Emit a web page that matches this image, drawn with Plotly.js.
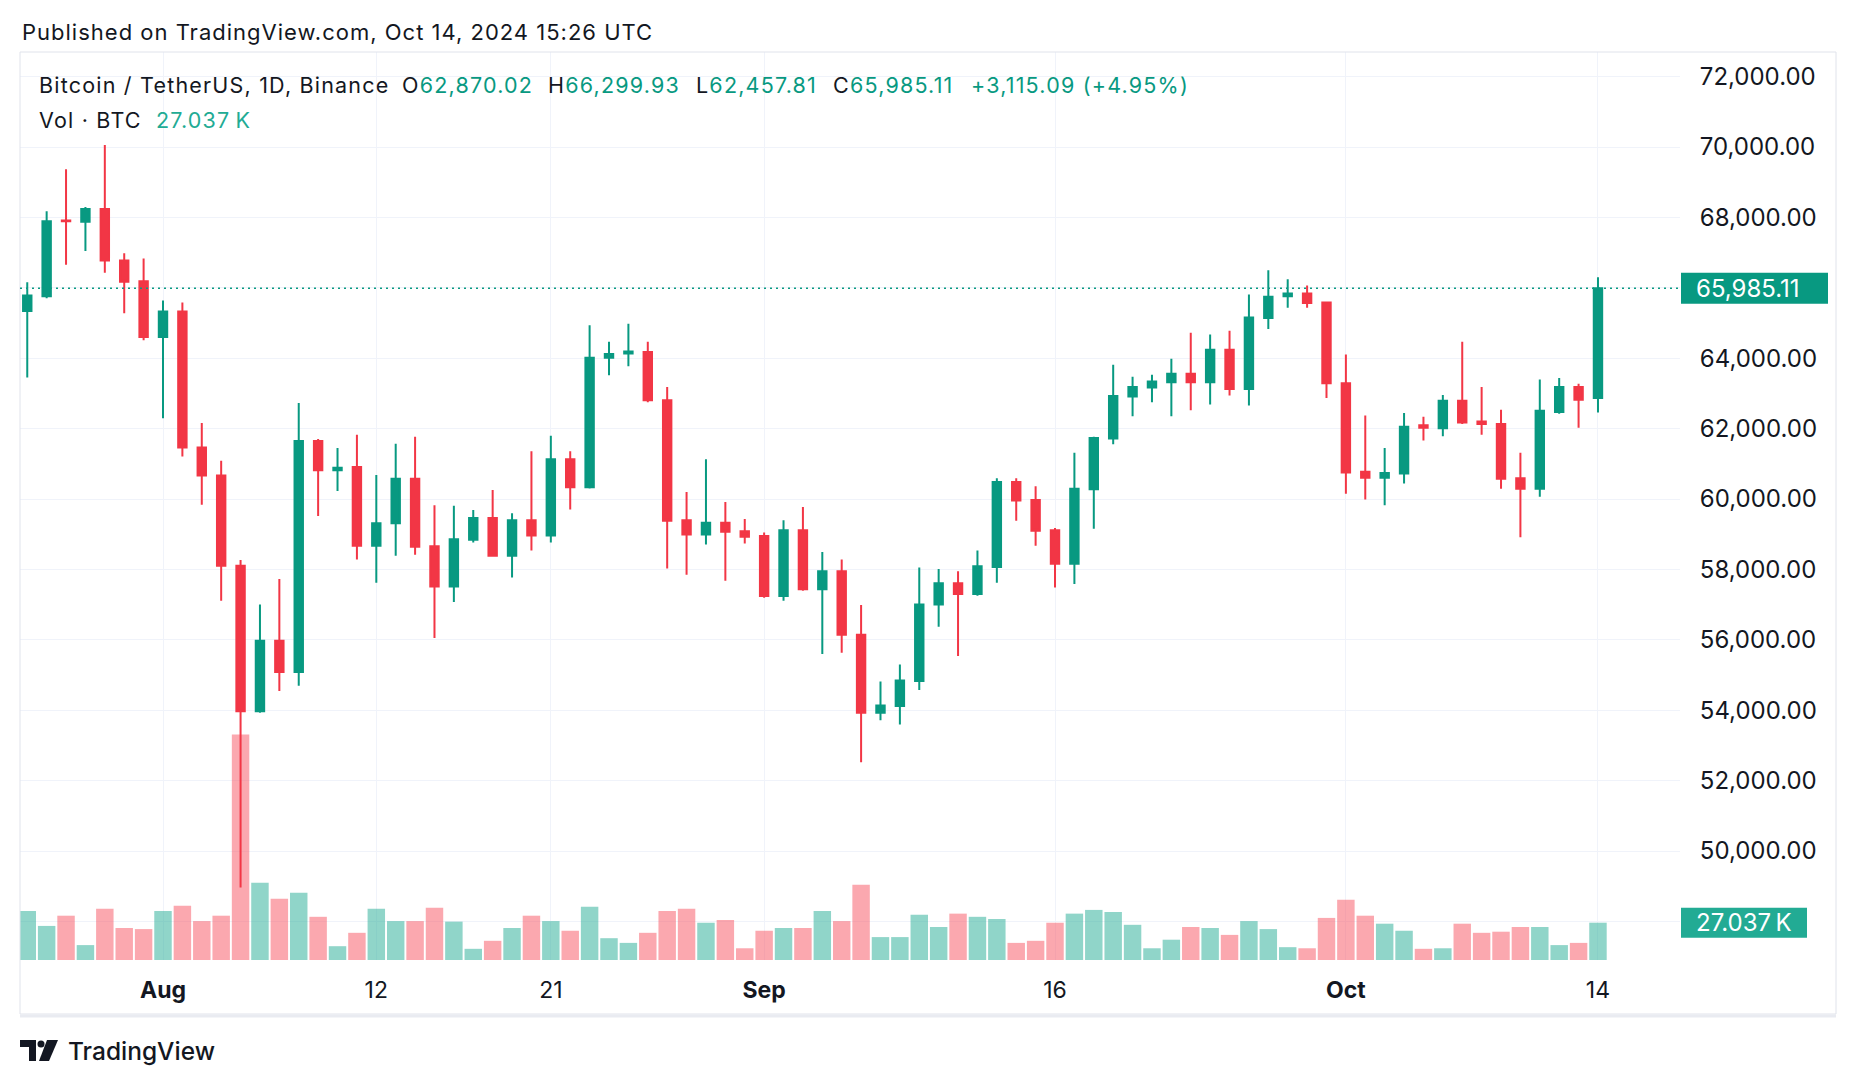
<!DOCTYPE html>
<html>
<head>
<meta charset="utf-8">
<script src="https://cdn.plot.ly/plotly-3.0.1.min.js"></script>
<style>
  html, body { margin:0; padding:0; background:#fff; }
  #chart { width:1856px; height:1086px; }
</style>
</head>
<body>
<div id="chart"></div>
<script>
// ---------------- DATA (BTC/USDT daily, Binance) ----------------
const dates = [
 '2024-07-25','2024-07-26','2024-07-27','2024-07-28','2024-07-29','2024-07-30','2024-07-31',
 '2024-08-01','2024-08-02','2024-08-03','2024-08-04','2024-08-05','2024-08-06','2024-08-07','2024-08-08','2024-08-09','2024-08-10',
 '2024-08-11','2024-08-12','2024-08-13','2024-08-14','2024-08-15','2024-08-16','2024-08-17','2024-08-18','2024-08-19','2024-08-20',
 '2024-08-21','2024-08-22','2024-08-23','2024-08-24','2024-08-25','2024-08-26','2024-08-27','2024-08-28','2024-08-29','2024-08-30','2024-08-31',
 '2024-09-01','2024-09-02','2024-09-03','2024-09-04','2024-09-05','2024-09-06','2024-09-07','2024-09-08','2024-09-09','2024-09-10',
 '2024-09-11','2024-09-12','2024-09-13','2024-09-14','2024-09-15','2024-09-16','2024-09-17','2024-09-18','2024-09-19','2024-09-20',
 '2024-09-21','2024-09-22','2024-09-23','2024-09-24','2024-09-25','2024-09-26','2024-09-27','2024-09-28','2024-09-29','2024-09-30',
 '2024-10-01','2024-10-02','2024-10-03','2024-10-04','2024-10-05','2024-10-06','2024-10-07','2024-10-08','2024-10-09','2024-10-10',
 '2024-10-11','2024-10-12','2024-10-13','2024-10-14'
];
const opens = [65340,65763,67910,67874,68236,66773,66185,
 64601,65325,61465,60666,58102,53970,55976,55086,61646,60816,
 60907,58675,59308,60575,58660,57514,58841,59459,58388,59399,
 58961,61133,60334,64013,64134,64179,62807,59399,58992,59323,59082,
 58946,57243,59112,57438,57951,56141,53925,54121,54830,57001,
 57604,57303,58072,60485,59972,59112,58162,60274,61721,62912,
 63169,63320,63561,63320,64239,63124,65144,65762,65838,65582,
 63289,60771,60605,60726,62098,62008,62792,62204,62128,60590,
 60289,62475,63184,62870.02];
const highs = [66155,68175,69367,68296,70060,66984,66833,
 65642,65582,62158,61088,58268,57001,57725,62731,61706,61450,
 61827,60680,61570,61766,59821,59806,59685,60258,59595,61359,
 61796,61359,64933,64466,64978,64466,63184,60198,61133,59912,59429,
 59052,59399,59776,58494,58283,56986,54814,55297,58057,58011,
 57951,58539,60590,60590,60364,59173,61314,61766,63817,63474,
 63531,63983,64722,64677,64782,65808,66501,66245,66064,65612,
 64104,62370,61450,62445,62339,62958,64466,63184,62535,61314,
 63395,63440,63274,66299.93];
const lows = [63455,65702,66652,67044,66426,65280,64511,
 62294,61208,59836,57107,48963,53925,54543,54694,59519,60228,
 58283,57619,58388,58418,56051,57076,58765,58370,57770,58539,
 58765,59700,60300,63516,63772,62750,58027,57846,58705,57680,58735,
 57197,57107,57393,55599,55629,52522,53714,53593,54573,56368,
 55538,57250,57619,59384,58675,57484,57589,59157,61555,62354,
 62747,62354,62520,62686,62943,62656,64828,65431,65431,62867,
 60153,59987,59821,60439,61661,61781,62128,61827,60289,58916,
 60063,62420,62023,62457.81];
const closes = [65778,67889,67890,68236,66773,66170,64601,
 65325,61465,60666,58102,53970,55976,55086,61646,60816,60891,
 58675,59308,60575,58645,57514,58856,59459,58388,59399,58961,
 61133,60334,64013,64119,64194,62807,59384,58992,59323,59067,58931,
 57243,59112,57438,57951,56141,53925,54136,54845,57001,57604,
 57303,58087,60485,59957,59097,58162,60289,61736,62927,63184,
 63335,63561,63320,64239,63124,65159,65747,65838,65566,63289,
 60756,60605,60741,62053,62023,62792,62173,62128,60575,60289,
 62505,63184,62822,65985.11];
// volume in thousands of BTC
const volumes = [35.5,24.7,32.1,10.8,37.1,23.2,22.4,
 35.5,39.4,28.2,32.1,163.4,56.0,44.4,48.7,31.3,10.0,
 19.7,37.1,28.2,28.2,37.8,27.8,8.1,13.9,23.2,32.1,
 28.2,21.2,38.6,15.8,12.4,19.7,35.5,37.1,27.0,29.0,8.5,
 21.2,23.2,23.2,35.5,28.2,54.5,16.6,16.6,32.8,23.9,
 33.6,31.3,29.7,12.4,13.9,27.0,33.6,36.3,34.8,25.5,
 8.5,14.7,23.9,23.2,18.2,28.2,22.4,9.3,8.5,30.5,
 43.6,32.1,26.3,21.2,8.1,8.5,26.3,19.7,20.5,23.9,
 23.9,10.8,12.4,27.037];

const xTickVals = ['2024-08-01','2024-08-12','2024-08-21','2024-09-01','2024-09-16','2024-10-01','2024-10-14'];
const xTickText = ['<b>Aug</b>','12','21','<b>Sep</b>','16','<b>Oct</b>','14'];
// 48,000 and 66,000 labels are hidden behind the volume / last-price labels in the reference
const priceTicks = [48000,50000,52000,54000,56000,58000,60000,62000,64000,66000,68000,70000,72000];
const priceTickText = ['','50,000.00','52,000.00','54,000.00','56,000.00','58,000.00','60,000.00','62,000.00','64,000.00','','68,000.00','70,000.00','72,000.00'];

const headerTitle = 'Bitcoin / TetherUS, 1D, Binance';
const publishedText = 'Published on TradingView.com, Oct 14, 2024 15:26 UTC';

// ---------------- STYLE ----------------
const UP = '#089981', DOWN = '#f23645';
const VOL_UP = 'rgba(34,171,148,0.5)', VOL_DOWN = 'rgba(247,82,95,0.5)';
const TXT = '#131722';
const FONT = 'Inter, Roboto, "Noto Sans", sans-serif';
const GRID = '#f0f3fa';

// layout helpers (pixel -> paper), plot area: x 20..1680, y 52..960
const PL = 20, PR = 1680, PT = 52, PB = 960;
const px = X => (X - PL) / (PR - PL);
const py = Y => (PB - Y) / (PB - PT);

const n = closes.length;
const lastClose = closes[n - 1];
const lastOpen = opens[n - 1];
const lastVol = volumes[n - 1];
const chg = lastClose - opens[n - 1];
const fmt = v => v.toLocaleString('en-US', {minimumFractionDigits: 2, maximumFractionDigits: 2});

const volColors = closes.map((c, i) => c >= opens[i] ? VOL_UP : VOL_DOWN);

const volTrace = {
  type: 'bar', x: dates, y: volumes, yaxis: 'y', xaxis: 'x',
  marker: {color: volColors, line: {width: 0}},
  hoverinfo: 'skip'
};
const candleTrace = {
  type: 'candlestick', x: dates, open: opens, high: highs, low: lows, close: closes,
  yaxis: 'y2', xaxis: 'x',
  increasing: {line: {color: UP, width: 2}, fillcolor: UP},
  decreasing: {line: {color: DOWN, width: 2}, fillcolor: DOWN},
  whiskerwidth: 0,
  hoverinfo: 'skip'
};

const LS = 'letter-spacing:1.2px;';
const S = (s, color) => '<span style="' + LS + (color ? 'color:' + color + ';' : '') + '">' + s + '</span>';
const ann = (X, Y, text, size, extra) => Object.assign({
  xref: 'paper', yref: 'paper', x: px(X), y: py(Y), xanchor: 'left', yanchor: 'middle',
  showarrow: false, text: text, font: {family: FONT, size: size, color: TXT}
}, extra || {});

const HS = 21.5;
const annotations = [
  ann(20, 32, '<span style="letter-spacing:1px">' + publishedText + '</span>', 22),
  ann(37, 85, S(headerTitle), HS),
  ann(400, 85, S('O') + S(fmt(lastOpen), UP), HS),
  ann(546, 85, S('H') + S(fmt(highs[n - 1]), UP), HS),
  ann(694, 85, S('L') + S(fmt(lows[n - 1]), UP), HS),
  ann(831, 85, S('C') + S(fmt(lastClose), UP), HS),
  ann(969, 85, S('+' + fmt(chg) + ' (+' + (chg / lastOpen * 100).toFixed(2) + '%)', UP), HS),
  ann(37, 120, S('Vol · BTC'), HS),
  ann(154, 120, S(lastVol.toFixed(3) + '\u2009K', '#22ab94'), HS),
  // price label
  {xref: 'paper', yref: 'y2', x: px(1694), y: lastClose, xanchor: 'left', yanchor: 'middle',
   showarrow: false, text: fmt(lastClose), font: {family: FONT, size: 24, color: '#ffffff'}},
  // volume label
  {xref: 'paper', yref: 'y', x: px(1694), y: lastVol, xanchor: 'left', yanchor: 'middle',
   showarrow: false, text: lastVol.toFixed(3) + '\u2009K', font: {family: FONT, size: 24, color: '#ffffff'}},
  // TradingView wordmark
  ann(66, 1051, 'TradingView', 24, {font: {family: FONT, size: 24.5, color: TXT, weight: 500}})
];

const shapes = [
  // pane border
  {type: 'rect', xref: 'paper', yref: 'paper', x0: 0, x1: px(1836), y0: py(1014), y1: 1,
   line: {color: '#e0e3eb', width: 1}, fillcolor: 'rgba(0,0,0,0)', layer: 'above'},
  {type: 'line', xref: 'paper', yref: 'paper', x0: 0, x1: px(1836), y0: py(1016), y1: py(1016),
   line: {color: '#e9ebf1', width: 3}, layer: 'above'},
  // last price dotted line
  {type: 'line', xref: 'paper', yref: 'y2', x0: 0, x1: 1, y0: lastClose, y1: lastClose,
   line: {color: UP, width: 1.5, dash: '2px,4px'}, layer: 'above'},
  // price label box
  {type: 'rect', xref: 'paper', yref: 'y2', ysizemode: 'pixel', yanchor: lastClose, y0: -15.5, y1: 15.5,
   x0: px(1681), x1: px(1828), fillcolor: UP, line: {width: 0}, layer: 'above'},
  // volume label box
  {type: 'rect', xref: 'paper', yref: 'y', ysizemode: 'pixel', yanchor: lastVol, y0: -15, y1: 15,
   x0: px(1681), x1: px(1807), fillcolor: '#22ab94', line: {width: 0}, layer: 'above'},
  // TradingView logo (approximation)
  {type: 'path', xref: 'paper', yref: 'paper', layer: 'above', fillcolor: TXT, line: {width: 0},
   path: 'M ' + px(20) + ' ' + py(1040) + ' L ' + px(36) + ' ' + py(1040) + ' L ' + px(36) + ' ' + py(1061) +
         ' L ' + px(29) + ' ' + py(1061) + ' L ' + px(29) + ' ' + py(1047) + ' L ' + px(20) + ' ' + py(1047) + ' Z'},
  {type: 'circle', xref: 'paper', yref: 'paper', layer: 'above', fillcolor: TXT, line: {width: 0},
   x0: px(37.5), x1: px(44.5), y0: py(1047.5), y1: py(1040.5)},
  {type: 'path', xref: 'paper', yref: 'paper', layer: 'above', fillcolor: TXT, line: {width: 0},
   path: 'M ' + px(47) + ' ' + py(1040) + ' L ' + px(58) + ' ' + py(1040) + ' L ' + px(49) + ' ' + py(1061) +
         ' L ' + px(39) + ' ' + py(1061) + ' Z'}
];

const layout = {
  width: 1856, height: 1086,
  margin: {l: PL, r: 1856 - PR, t: PT, b: 1086 - PB, pad: 0},
  paper_bgcolor: '#ffffff', plot_bgcolor: '#ffffff',
  showlegend: false,
  boxgap: 0.38, bargap: 0.1,
  font: {family: FONT, color: TXT},
  xaxis: {
    type: 'date', range: ['2024-07-24 15:01', '2024-10-18 05:31'],
    tickmode: 'array', tickvals: xTickVals, ticktext: xTickText,
    showgrid: true, gridcolor: GRID, gridwidth: 1, zeroline: false, showline: false,
    ticks: 'outside', ticklen: 9, tickcolor: 'rgba(0,0,0,0)',
    tickfont: {family: FONT, size: 23, color: TXT},
    rangeslider: {visible: false}, fixedrange: true
  },
  yaxis: {range: [0, 658], visible: false, showgrid: false, zeroline: false, fixedrange: true},
  yaxis2: {
    overlaying: 'y', side: 'right', range: [46904, 72699],
    tickmode: 'array', tickvals: priceTicks, ticktext: priceTickText,
    showgrid: true, gridcolor: GRID, gridwidth: 1, zeroline: false, showline: false,
    ticks: 'outside', ticklen: 14, tickcolor: 'rgba(0,0,0,0)',
    tickfont: {family: FONT, size: 24, color: TXT}, fixedrange: true
  },
  annotations: annotations,
  shapes: shapes
};

Plotly.newPlot('chart', [volTrace, candleTrace], layout, {displayModeBar: false, staticPlot: true});
</script>
</body>
</html>
